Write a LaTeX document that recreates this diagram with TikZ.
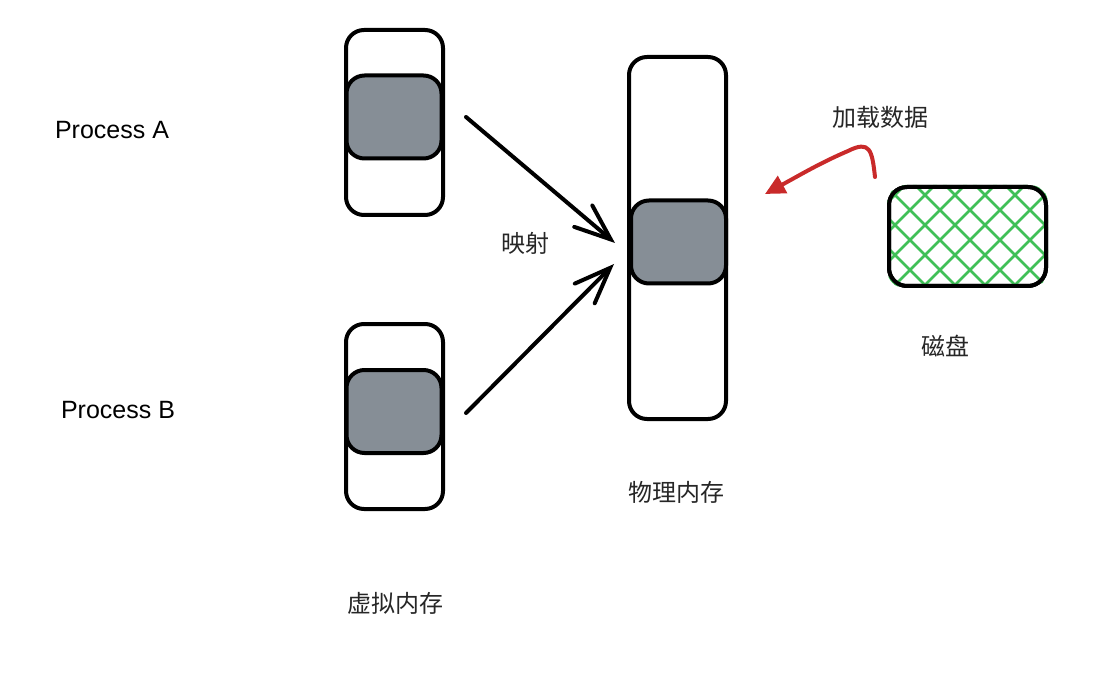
\documentclass[tikz,border=0pt]{standalone}
\usepackage{fontspec}
\newfontfamily\cjk{Noto Sans CJK SC}
\setmainfont{Liberation Sans}
\usetikzlibrary{arrows.meta}
\definecolor{memgray}{HTML}{868E96}
\definecolor{hatchgreen}{HTML}{40C057}
\definecolor{loadred}{HTML}{C92A2A}
\begin{document}
\begin{tikzpicture}[x=1pt,y=-1pt,
  box/.style={draw=black, line width=4pt, rounded corners=18pt, fill=white, inner sep=0pt},
  memblock/.style={box, fill=memgray},
  maparrow/.style={draw=black, line width=4pt, line cap=round, -{Straight Barb[length=36pt, width=28pt, line cap=round]}},
  cjklabel/.style={font=\cjk\fontsize{24}{28}\selectfont, text=black!85, inner sep=0pt},
  proclabel/.style={font=\fontsize{25}{29}\selectfont, inner sep=0pt}]
\useasboundingbox (0,0) rectangle (1109,679);

% virtual memory A
\node[box, minimum width=97pt, minimum height=185pt] (va) at (394.5,122.5) {};
\node[memblock, minimum width=95pt, minimum height=83pt] (vai) at (394,117) {};
% virtual memory B
\node[box, minimum width=97pt, minimum height=185pt] (vb) at (394.5,416.5) {};
\node[memblock, minimum width=95pt, minimum height=83pt] (vbi) at (394,411.5) {};
% physical memory
\node[box, minimum width=97pt, minimum height=362pt] (pm) at (677.5,238) {};
\node[memblock, minimum width=95pt, minimum height=83pt] (pmi) at (678.5,242) {};

% disk
\node[box, minimum width=157pt, minimum height=99pt] (disk) at (967.5,236.5) {};
\begin{scope}
  \clip[rounded corners=18pt] (disk.south west) rectangle (disk.north east);
  \foreach \c in {760,790,...,1060} {
    \draw[hatchgreen, line width=2.5pt] (\c,180) -- (\c+120,300);
    \draw[hatchgreen, line width=2.5pt] (\c,300) -- (\c+120,180);
  }
\end{scope}
\node[draw=black, line width=4pt, rounded corners=18pt, inner sep=0pt, minimum width=157pt, minimum height=99pt] (diskframe) at (disk.center) {};

% mapping arrows
\coordinate (sa) at (466,117);
\coordinate (ta) at (615,243);
\coordinate (sb) at (466,413);
\coordinate (tb) at (614,264);
\draw[maparrow] (sa) -- (ta);
\draw[maparrow] (sb) -- (tb);

% load arrow
\coordinate (ls) at (875,177);
\coordinate (lt) at (765,194);
\draw[loadred, line width=4pt, line cap=round, -{Triangle[length=20pt, width=19pt]}]
  (ls) .. controls (872,150) and (870,140) .. (848,151) .. controls (820,163) and (800,175) .. (lt);

% labels
\node[proclabel] (pa) at (112,130) {Process A};
\node[proclabel] (pb) at (118,410) {Process B};
\node[cjklabel] (map) at (525,243) {映射};
\node[cjklabel] (vlabel) at (395,603) {虚拟内存};
\node[cjklabel] (plabel) at (676,492) {物理内存};
\node[cjklabel] (load) at (880,117) {加载数据};
\node[cjklabel] (dlabel) at (945,346) {磁盘};
\end{tikzpicture}
\end{document}
